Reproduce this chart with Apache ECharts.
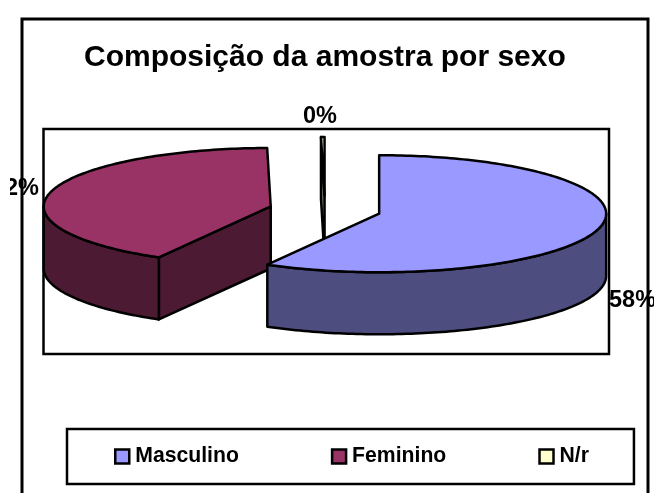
<!DOCTYPE html>
<html>
<head>
<meta charset="utf-8">
<style>html,body{margin:0;padding:0;background:#fff;overflow:hidden}#c{width:654px;height:493px}</style>
<script src="https://cdn.jsdelivr.net/npm/echarts@6/dist/echarts.min.js"></script>
</head>
<body>
<div id="c"></div>
<script>
const titleText = 'Composição da amostra por sexo';
const categories = ['Masculino', 'Feminino', 'N/r'];
const values = [58.2, 41.55, 0.25];
const faceColors = ['#9999FF', '#993366', '#FFFFCC'];
const wallColors = ['#4D4D80', '#4D1A33', '#808066'];

const FONT = '"Liberation Sans", Arial, sans-serif';
const EXPLODE = 0.2467;   // slice explosion, in radius units
const DEPTH = 1.06;       // pie thickness, in vertical radius units
const total = values.reduce((a, b) => a + b, 0);
const starts = [];
values.reduce((acc, v, i) => { starts[i] = acc; return acc + v; }, 0);
const labelSpots = [
  { x: 1.251, y: -1.54, align: 'left' },
  { x: -1.26, y: 0.36, align: 'right' },
  { x: -0.022, y: 1.605, align: 'center' }
];

function makeRender(idx) {
  return function (params, api) {
    const v = api.value(0);
    const a0 = starts[idx] / total * 2 * Math.PI;
    const a1 = a0 + v / total * 2 * Math.PI;
    const mid = (a0 + a1) / 2;
    const cx = EXPLODE * Math.sin(mid);
    const cy = EXPLODE * Math.cos(mid);
    const rim = (a, drop) => api.coord([cx + Math.sin(a), cy + Math.cos(a) - (drop || 0)]);
    const apex = (drop) => api.coord([cx, cy - (drop || 0)]);
    const arc = (from, to, drop) => {
      const n = Math.max(2, Math.ceil(Math.abs(to - from) / 0.02));
      const pts = [];
      for (let i = 0; i <= n; i++) pts.push(rim(from + (to - from) * i / n, drop));
      return pts;
    };
    const line = { stroke: '#000', lineWidth: 2.5, lineJoin: 'round' };
    const wall = pts => ({
      type: 'polygon', shape: { points: pts },
      style: Object.assign({ fill: wallColors[idx] }, line)
    });
    const children = [];
    // cut walls that face the viewer
    if (Math.sin(a0) < -1e-6) children.push(wall([apex(), rim(a0), rim(a0, DEPTH), apex(DEPTH)]));
    if (Math.sin(a1) > 1e-6) children.push(wall([apex(), rim(a1), rim(a1, DEPTH), apex(DEPTH)]));
    // outer wall, front half of the rim only
    const f0 = Math.max(a0, Math.PI / 2), f1 = Math.min(a1, 3 * Math.PI / 2);
    if (f1 > f0) {
      children.push(wall(arc(f0, f1, 0).concat(arc(f1, f0, DEPTH))));
    }
    // top face
    children.push({
      type: 'polygon', shape: { points: [apex()].concat(arc(a0, a1, 0)) },
      style: Object.assign({ fill: faceColors[idx] }, line)
    });
    // percent label
    const spot = labelSpots[idx];
    const p = api.coord([spot.x, spot.y]);
    children.push({
      type: 'text', x: p[0], y: p[1], z2: 50,
      style: {
        text: Math.round(v / total * 100) + '%',
        font: 'bold 23.5px ' + FONT, fill: '#000',
        align: spot.align, verticalAlign: 'middle'
      }
    });
    return { type: 'group', children };
  };
}

const drawOrder = [2, 1, 0];
const chart = echarts.init(document.getElementById('c'), null, { renderer: 'canvas' });
chart.setOption({
  animation: false,
  backgroundColor: '#fff',
  title: {
    text: titleText, left: 79, top: 38,
    textStyle: { fontFamily: FONT, fontWeight: 'bold', fontSize: 30, color: '#000' }
  },
  legend: {
    data: categories, left: 67, top: 429,
    padding: [17, 45, 17, 47], itemGap: 92, itemWidth: 14, itemHeight: 14,
    borderColor: '#000', borderWidth: 2.5, backgroundColor: '#fff',
    icon: 'rect',
    itemStyle: { borderColor: '#000', borderWidth: 2.5 },
    textStyle: { fontFamily: FONT, fontWeight: 'bold', fontSize: 21.2, color: '#000', padding: [0, 0, 0, 1] }
  },
  grid: {
    left: 43.5, top: 129, width: 565.5, height: 225,
    show: true, borderColor: '#000', borderWidth: 2.5, backgroundColor: '#fff'
  },
  xAxis: { type: 'value', min: -1.24, max: 1.251, show: false },
  yAxis: { type: 'value', min: -2.46, max: 1.385, show: false },
  graphic: [
    { type: 'rect', shape: { x: 22, y: 19, width: 626, height: 600 },
      style: { fill: 'none', stroke: '#000', lineWidth: 3 }, z: 100, silent: true },
    { type: 'rect', shape: { x: 0, y: 170, width: 10, height: 34 },
      style: { fill: '#fff' }, z: 99, silent: true }
  ],
  series: drawOrder.map(i => ({
    type: 'custom', name: categories[i], coordinateSystem: 'cartesian2d',
    itemStyle: { color: faceColors[i] },
    renderItem: makeRender(i),
    clip: false,
    encode: { x: 0, y: 0 },
    data: [[values[i]]]
  }))
});
</script>
</body>
</html>
